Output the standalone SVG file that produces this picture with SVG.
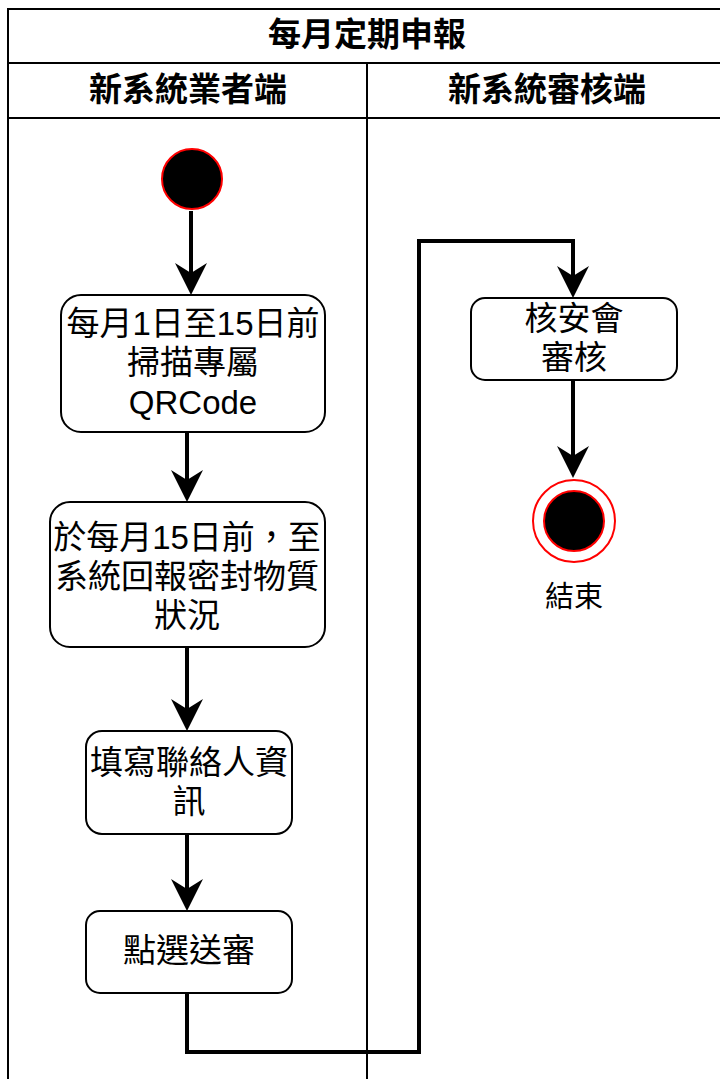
<svg xmlns="http://www.w3.org/2000/svg" width="720" height="1079" viewBox="0 0 720 1079">
<style>
.frame{fill:none;stroke:#000;stroke-width:2}
.box{fill:#fff;stroke:#000;stroke-width:2}
.t{font-family:"Liberation Sans","Noto Sans CJK TC","Noto Sans CJK SC",sans-serif;font-size:33px;fill:#000;text-anchor:middle;dominant-baseline:central}
.h{font-weight:bold}
.edge{fill:none;stroke:#000;stroke-width:4;stroke-linejoin:miter}
</style>
<defs>
<marker id="arr" markerUnits="userSpaceOnUse" viewBox="0 0 32 32" refX="10" refY="16" markerWidth="32" markerHeight="32" orient="auto">
<path d="M0,0 L32,16 L0,32 L10,16 Z" fill="#000"/>
</marker>
</defs>
<rect width="720" height="1079" fill="#fff"/>
<g id="pool">
<rect class="frame" x="8" y="9" width="720" height="1100"/>
<line class="frame" x1="8" y1="63" x2="728" y2="63"/>
<line class="frame" x1="8" y1="118" x2="728" y2="118"/>
<line class="frame" x1="367" y1="63" x2="367" y2="1100"/>
<text class="t h" x="367" y="34">每月定期申報</text>
<text class="t h" x="188" y="89">新系統業者端</text>
<text class="t h" x="547" y="89">新系統審核端</text>
</g>
<g id="connectors">
<path class="edge" d="M191,211 V273" marker-end="url(#arr)"/>
<path class="edge" d="M187,432 V480" marker-end="url(#arr)"/>
<path class="edge" d="M187,647 V709" marker-end="url(#arr)"/>
<path class="edge" d="M187,834 V889" marker-end="url(#arr)"/>
<path class="edge" d="M187,993 V1052 H419 V241 H573 V276" marker-end="url(#arr)"/>
<path class="edge" d="M573,380 V456" marker-end="url(#arr)"/>
</g>
<g id="start">
<circle cx="192" cy="179" r="30" fill="#000" stroke="#ff0000" stroke-width="2"/>
</g>
<g id="n1">
<rect class="box" x="61" y="295" width="264" height="137" rx="20"/>
<text class="t" x="193" y="323">每月1日至15日前<tspan x="193" dy="39">掃描專屬</tspan><tspan x="193" dy="40">QRCode</tspan></text>
</g>
<g id="n2">
<rect class="box" x="50" y="502" width="275" height="145" rx="20"/>
<text class="t" x="187" y="537">於每月15日前，至<tspan x="187" dy="39">系統回報密封物質</tspan><tspan x="187" dy="39">狀況</tspan></text>
</g>
<g id="n3">
<rect class="box" x="86" y="731" width="206" height="103" rx="16"/>
<text class="t" x="189" y="762">填寫聯絡人資<tspan x="189" dy="39">訊</tspan></text>
</g>
<g id="n4">
<rect class="box" x="86" y="911" width="206" height="82" rx="14"/>
<text class="t" x="189" y="950">點選送審</text>
</g>
<g id="n5">
<rect class="box" x="471" y="298" width="206" height="82" rx="14"/>
<text class="t" x="574" y="318">核安會<tspan x="574" dy="39">審核</tspan></text>
</g>
<g id="end">
<circle cx="574" cy="521" r="41" fill="#fff" stroke="#ff0000" stroke-width="2"/>
<circle cx="574" cy="521" r="30" fill="#000" stroke="#ff0000" stroke-width="2"/>
<text class="t" x="574" y="597" style="font-size:29px">結束</text>
</g>
</svg>
